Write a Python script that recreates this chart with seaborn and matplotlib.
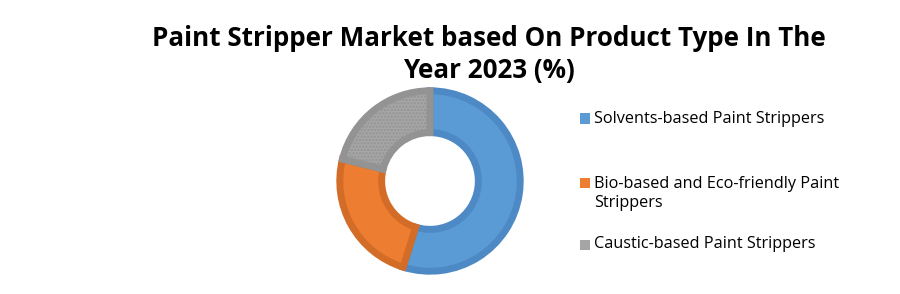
import matplotlib
matplotlib.use("Agg")
import matplotlib.pyplot as plt
import seaborn as sns
from matplotlib.patches import Rectangle

sns.set_theme(style="white")
plt.rcParams['font.family'] = ['Open Sans', 'DejaVu Sans']

categories = ["Solvents-based Paint Strippers",
              "Bio-based and Eco-friendly Paint Strippers",
              "Caustic-based Paint Strippers"]
legend_labels = ["Solvents-based Paint Strippers",
                 "Bio-based and Eco-friendly Paint\nStrippers",
                 "Caustic-based Paint Strippers"]
values = [54.8, 24.1, 21.1]
colors = ["#5B9BD5", "#ED7D31", "#A5A5A5"]
edge_colors = ["#4D89C4", "#D36C27", "#939393"]
title = "Paint Stripper Market based On Product Type In The\nYear 2023 (%)"

fig = plt.figure(figsize=(9, 2.94), dpi=100)
W, H = 900, 294
cx, cy, r = 430, 181, 93
ax = fig.add_axes([(cx - r) / W, (H - cy - r) / H, 2 * r / W, 2 * r / H])
wedges, _ = ax.pie(values, colors=colors, startangle=90, counterclock=False,
                   radius=0.97, wedgeprops=dict(width=0.45, linewidth=5))
for w, ec in zip(wedges, edge_colors):
    w.set_edgecolor(ec)
wedges[2].set_hatch('.....')
ax.set_xlim(-1, 1)
ax.set_ylim(-1, 1)
ax.set_aspect('equal')
ax.axis('off')

fig.text(489 / W, 1 - 54.5 / H, title, ha='center', va='center', fontsize=18.7,
         fontweight='bold', color='#000000', linespacing=1.27)

rows = [118.5, 193.5, 244.5]
for lab, col, y in zip(legend_labels, colors, rows):
    n = lab.count('\n')
    ytop = y - n * 10.5
    fig.patches.append(Rectangle(((580) / W, 1 - (ytop + 5) / H), 10 / W, 10 / H,
                                 transform=fig.transFigure, facecolor=col,
                                 edgecolor='none'))
    fig.text(594 / W, 1 - y / H, lab, ha='left', va='center', fontsize=11.7,
             color='#000000', linespacing=1.25)

fig.savefig("out.png", dpi=100, facecolor='white')
